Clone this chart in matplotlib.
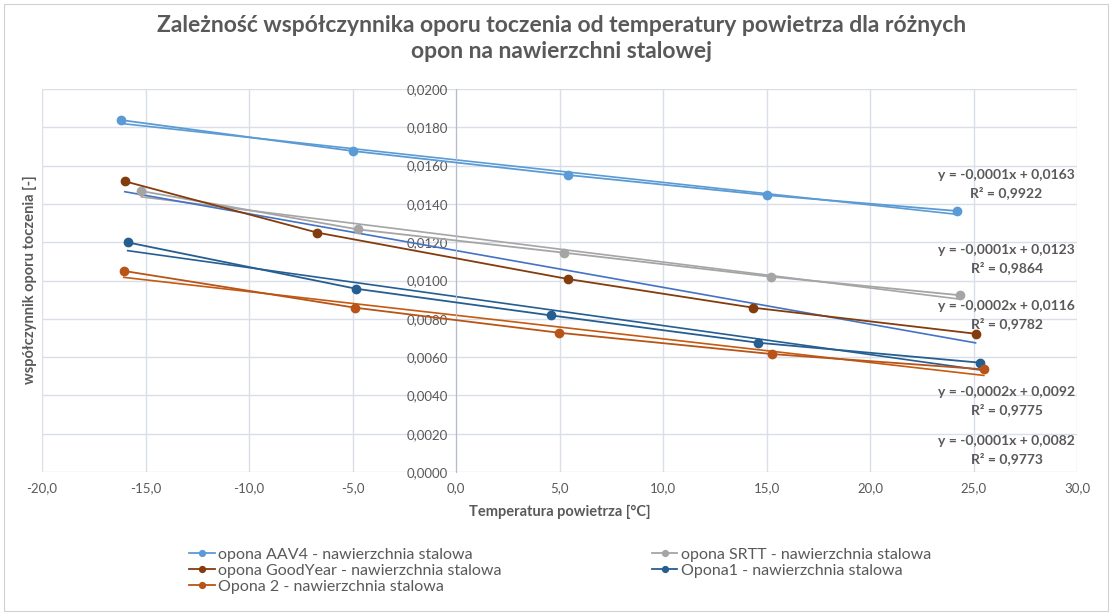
import numpy as np
import matplotlib.pyplot as plt
from matplotlib.patches import Rectangle
from matplotlib.ticker import FuncFormatter, MultipleLocator

plt.rcParams['font.family'] = ['Lato', 'DejaVu Sans']

# data
labels = ['opona AAV4 - nawierzchnia stalowa',
          'opona SRTT - nawierzchnia stalowa',
          'opona GoodYear - nawierzchnia stalowa',
          'Opona1 - nawierzchnia stalowa',
          'Opona 2 - nawierzchnia stalowa']

x_aav4 = [-16.2, -4.97, 5.4, 15.0, 24.2]
y_aav4 = [0.01838, 0.01676, 0.01551, 0.01446, 0.01363]

x_srtt = [-15.2, -4.75, 5.23, 15.2, 24.35]
y_srtt = [0.01467, 0.01267, 0.01145, 0.0102, 0.00923]

x_gy = [-16.0, -6.7, 5.4, 14.36, 25.1]
y_gy = [0.01518, 0.0125, 0.01008, 0.00858, 0.00722]

x_op1 = [-15.86, -4.83, 4.57, 14.6, 25.3]
y_op1 = [0.01199, 0.00957, 0.00818, 0.00675, 0.00571]

x_op2 = [-16.05, -4.88, 4.99, 15.25, 25.5]
y_op2 = [0.0105, 0.00858, 0.00727, 0.00616, 0.00536]

trend_text = ['y = -0,0001x + 0,0163\nR² = 0,9922',
              'y = -0,0001x + 0,0123\nR² = 0,9864',
              'y = -0,0002x + 0,0116\nR² = 0,9782',
              'y = -0,0002x + 0,0092\nR² = 0,9775',
              'y = -0,0001x + 0,0082\nR² = 0,9773']
trend_pos = [(26.6, 0.01504), (26.6, 0.01112), (26.6, 0.0082), (26.6, 0.00371), (26.6, 0.00115)]

series = [(x_aav4, y_aav4), (x_srtt, y_srtt), (x_gy, y_gy), (x_op1, y_op1), (x_op2, y_op2)]
colors = ['#5B9BD5', '#A5A5A5', '#843C0C', '#255E91', '#B85417']
trend_colors = ['#5B9BD5', '#A5A5A5', '#4472C4', '#255E91', '#C55A11']

txt = '#595959'

fig = plt.figure(figsize=(11.12, 6.15), dpi=100)
fig.patches.append(Rectangle((0.004, 0.006), 0.992, 0.988, transform=fig.transFigure,
                             fill=False, edgecolor='#D0D0D0', lw=0.8))
ax = fig.add_axes([42 / 1112, 1 - 472 / 615, 1035 / 1112, 383 / 615])

for (xs, ys), c, tc, lab in zip(series, colors, trend_colors, labels):
    ax.plot(xs, ys, color=c, lw=1.3, marker='o', ms=6, label=lab, zorder=3)
    k, b = np.polyfit(xs, ys, 1)
    xx = np.array([min(xs), max(xs)])
    ax.plot(xx, k * xx + b, color=tc, lw=1.2, zorder=2)

for t, (tx, ty) in zip(trend_text, trend_pos):
    ax.text(tx, ty, t, ha='center', va='center', fontsize=10, color=txt,
            fontweight='bold', linespacing=1.5)

ax.set_xlim(-20, 30)
ax.set_ylim(0, 0.02)
ax.xaxis.set_major_locator(MultipleLocator(5))
ax.yaxis.set_major_locator(MultipleLocator(0.002))
ax.xaxis.set_major_formatter(FuncFormatter(lambda v, p: f'{v:.1f}'.replace('.', ',')))
ax.yaxis.set_major_formatter(FuncFormatter(lambda v, p: f'{v:.4f}'.replace('.', ',')))
ax.grid(True, color='#D9DEE8', lw=1)
ax.set_axisbelow(True)
for s in ['top', 'right', 'bottom']:
    ax.spines[s].set_visible(False)
ax.spines['left'].set_position(('data', 0))
ax.spines['left'].set_color('#B4BCCC')
ax.tick_params(length=0, labelsize=9.5, labelcolor=txt)
ax.tick_params(axis='y', pad=6)
ax.tick_params(axis='x', pad=7)

ax.set_xlabel('Temperatura powietrza [°C]', fontsize=10.5, fontweight='bold', color=txt, labelpad=8)
fig.text(30 / 1112, 1 - 280 / 615, 'współczynnik oporu toczenia [-]', rotation=90,
         ha='center', va='center', fontsize=10.5, fontweight='bold', color=txt)

fig.suptitle('Zależność współczynnika oporu toczenia od temperatury powietrza dla różnych\nopon na nawierzchni stalowej',
             x=0.505, y=0.975, fontsize=16.5, fontweight='bold', color=txt, linespacing=1.3)

h, l = ax.get_legend_handles_labels()
order = [0, 2, 4, 1, 3]
fig.legend([h[i] for i in order], [l[i] for i in order], loc='upper left',
           bbox_to_anchor=(175 / 1112, 1 - 533 / 615), ncol=2, frameon=False,
           fontsize=11.5, labelcolor=txt, handlelength=1.6, handletextpad=0.2,
           columnspacing=9.4, labelspacing=0.12, markerscale=0.7)

plt.savefig('out.png', dpi=100)
